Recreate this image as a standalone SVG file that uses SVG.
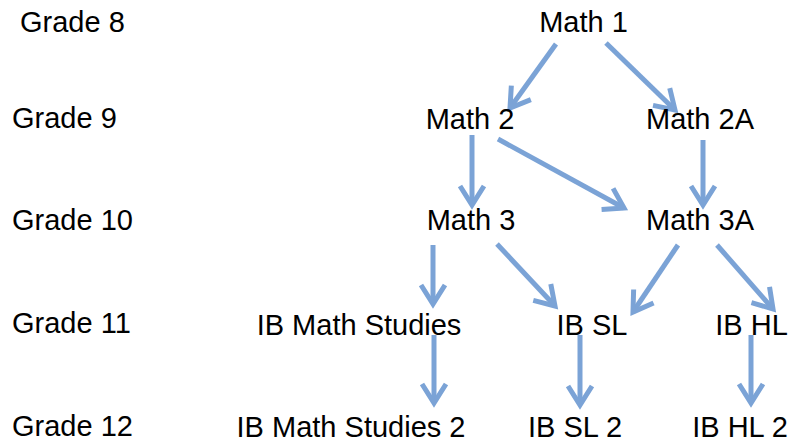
<svg xmlns="http://www.w3.org/2000/svg" width="795" height="446" viewBox="0 0 795 446">
<defs>
<style>
text{font-family:"Liberation Sans",Arial,sans-serif;font-size:29px;fill:#000}
.m{text-anchor:middle}
.c{stroke:#7BA3D6;stroke-width:5;fill:none;marker-end:url(#ah)}
</style>
<marker id="ah" markerUnits="userSpaceOnUse" viewBox="-24 -16 30 32" markerWidth="30" markerHeight="32" refX="0" refY="0" orient="auto">
<path d="M-19,-12 L0,0 L-19,12" fill="none" stroke="#7BA3D6" stroke-width="5" stroke-linejoin="miter" stroke-linecap="butt"/>
</marker>
</defs>
<rect width="795" height="446" fill="#fff"/>
<g id="labels">
<text x="20" y="32">Grade 8</text>
<text x="12" y="128">Grade 9</text>
<text x="12" y="230">Grade 10</text>
<text x="12" y="333">Grade 11</text>
<text x="12" y="436">Grade 12</text>
</g>
<g id="connectors">
<line class="c" x1="556" y1="44" x2="510" y2="108"/>
<line class="c" x1="606" y1="43" x2="675" y2="110"/>
<line class="c" x1="472" y1="135" x2="472" y2="205"/>
<line class="c" x1="498" y1="139" x2="624" y2="208"/>
<line class="c" x1="703" y1="140" x2="703" y2="205"/>
<line class="c" x1="433" y1="245" x2="433" y2="304"/>
<line class="c" x1="497" y1="244" x2="555" y2="306"/>
<line class="c" x1="678" y1="245" x2="633" y2="312"/>
<line class="c" x1="717" y1="245" x2="773" y2="309"/>
<line class="c" x1="434" y1="335" x2="434" y2="403"/>
<line class="c" x1="580" y1="335" x2="580" y2="405"/>
<line class="c" x1="751" y1="335" x2="751" y2="403"/>
</g>
<g id="math1"><text class="m" x="583.5" y="32">Math 1</text></g>
<g id="math2"><text class="m" x="470" y="129">Math 2</text></g>
<g id="math2a"><text class="m" x="700" y="129">Math 2A</text></g>
<g id="math3"><text class="m" x="471" y="230">Math 3</text></g>
<g id="math3a"><text class="m" x="700" y="230">Math 3A</text></g>
<g id="ibms"><text class="m" x="359" y="335">IB Math Studies</text></g>
<g id="ibsl"><text class="m" x="592" y="335">IB SL</text></g>
<g id="ibhl"><text class="m" x="751.5" y="335">IB HL</text></g>
<g id="ibms2"><text class="m" x="351" y="437">IB Math Studies 2</text></g>
<g id="ibsl2"><text class="m" x="575" y="437">IB SL 2</text></g>
<g id="ibhl2"><text class="m" x="740" y="437">IB HL 2</text></g>
</svg>
